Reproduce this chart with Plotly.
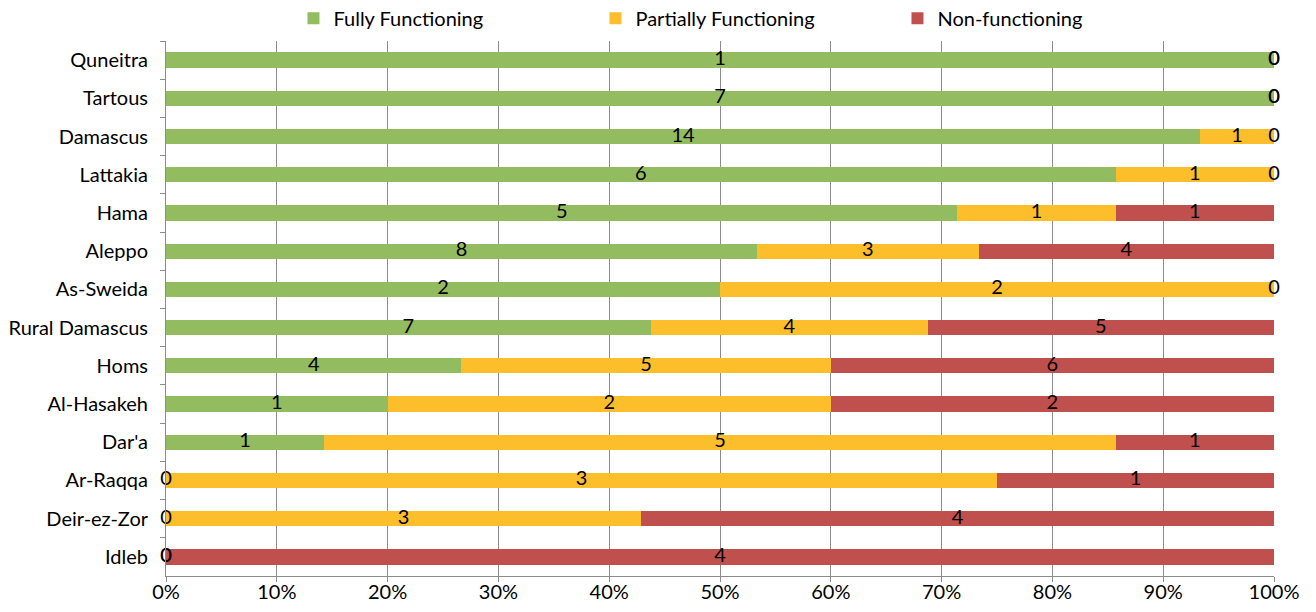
import plotly.graph_objects as go

# Governorates, top to bottom
governorates = ["Quneitra", "Tartous", "Damascus", "Lattakia", "Hama", "Aleppo",
                "As-Sweida", "Rural Damascus", "Homs", "Al-Hasakeh", "Dar'a",
                "Ar-Raqqa", "Deir-ez-Zor", "Idleb"]

fully = [1, 7, 14, 6, 5, 8, 2, 7, 4, 1, 1, 0, 0, 0]
partially = [0, 0, 1, 1, 1, 3, 2, 4, 5, 2, 5, 3, 3, 0]
non_functioning = [0, 0, 0, 0, 1, 4, 0, 5, 6, 2, 1, 1, 4, 4]

series_names = ["Fully Functioning", "Partially Functioning", "Non-functioning"]
series_values = [fully, partially, non_functioning]
series_colors = ["#93BB5F", "#FDBE2B", "#C0504D"]

tick_vals = [0, 10, 20, 30, 40, 50, 60, 70, 80, 90, 100]
tick_text = ["0%", "10%", "20%", "30%", "40%", "50%", "60%", "70%", "80%", "90%", "100%"]

FONT = "Lato"
FSIZE = 20
totals = [sum(v) for v in zip(*series_values)]

fig = go.Figure()
label_x, label_y, label_t = [], [], []
cum = [0.0] * len(governorates)
for name, vals, color in zip(series_names, series_values, series_colors):
    pct = [100.0 * v / t for v, t in zip(vals, totals)]
    fig.add_trace(go.Bar(
        y=governorates, x=pct, name=name, orientation="h",
        marker=dict(color=color, line=dict(width=0)),
        hoverinfo="skip",
    ))
    for i, (p, v) in enumerate(zip(pct, vals)):
        label_x.append(cum[i] + p / 2)
        label_y.append(governorates[i])
        label_t.append(str(v))
        cum[i] += p

# Segment value labels (also shown for empty segments at their boundary)
fig.add_trace(go.Scatter(
    x=label_x, y=label_y, text=label_t, mode="text",
    textfont=dict(family=FONT, size=FSIZE, color="#000000"),
    showlegend=False, cliponaxis=False, hoverinfo="skip",
))

n = len(governorates)
fig.update_layout(
    barmode="stack",
    bargap=0.6,
    width=1316, height=612,
    margin=dict(l=166, r=42, t=41, b=36, autoexpand=False),
    paper_bgcolor="white", plot_bgcolor="white",
    font=dict(family=FONT, size=FSIZE, color="#000000"),
    legend=dict(
        orientation="h", x=0.223, xref="container", y=1.079, yref="paper",
        xanchor="left", yanchor="top",
        entrywidth=257, entrywidthmode="pixels",
        font=dict(family=FONT, size=FSIZE, color="#000000"),
        traceorder="normal",
    ),
    xaxis=dict(
        range=[0, 100], tickvals=tick_vals, ticktext=tick_text,
        showgrid=True, gridcolor="#8C8C8C", gridwidth=1,
        showline=True, linecolor="#8C8C8C", linewidth=1,
        ticks="outside", ticklen=5, tickcolor="#8C8C8C",
        zeroline=False, fixedrange=True, ticklabelstandoff=-7,
    ),
    yaxis=dict(
        categoryorder="array", categoryarray=governorates,
        range=[n - 0.5, -0.5],
        showline=True, linecolor="#8C8C8C", linewidth=1,
        ticks="outside", ticklen=5, tickcolor="#8C8C8C",
        tickson="boundaries", showgrid=False, ticklabelstandoff=13,
        fixedrange=True,
    ),
)

fig.write_html("out.html")
